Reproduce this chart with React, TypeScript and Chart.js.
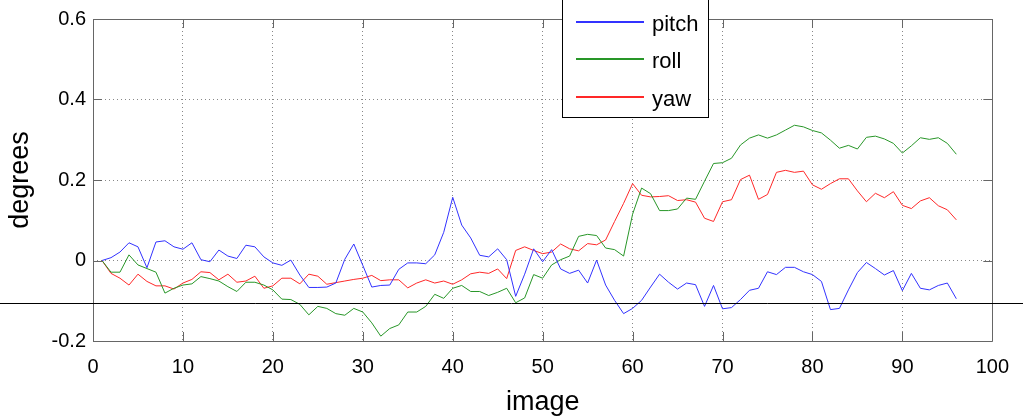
import React, { useEffect, useRef } from 'react';
import { Chart, registerables } from 'chart.js';

Chart.register(...registerables);

const images = [
  1, 2, 3, 4, 5, 6, 7, 8, 9, 10, 11, 12, 13, 14, 15, 16, 17, 18, 19, 20,
  21, 22, 23, 24, 25, 26, 27, 28, 29, 30, 31, 32, 33, 34, 35, 36, 37, 38, 39, 40,
  41, 42, 43, 44, 45, 46, 47, 48, 49, 50, 51, 52, 53, 54, 55, 56, 57, 58, 59, 60,
  61, 62, 63, 64, 65, 66, 67, 68, 69, 70, 71, 72, 73, 74, 75, 76, 77, 78, 79, 80,
  81, 82, 83, 84, 85, 86, 87, 88, 89, 90, 91, 92, 93, 94, 95, 96,
];

const pitch = [
  0, 0.007, 0.021, 0.044, 0.034, -0.018, 0.046, 0.049, 0.034, 0.028,
  0.044, 0.002, -0.003, 0.026, 0.011, 0.005, 0.038, 0.034, 0.009, -0.006,
  -0.012, 0.001, -0.036, -0.067, -0.067, -0.066, -0.056, 0.003, 0.041, -0.012,
  -0.066, -0.062, -0.061, -0.022, -0.006, -0.006, -0.008, 0.014, 0.07, 0.157,
  0.088, 0.056, 0.013, 0.009, 0.029, 0.002, -0.089, -0.034, 0.029, -0.003,
  0.027, -0.021, -0.032, -0.024, -0.056, 0.001, -0.061, -0.099, -0.132, -0.119,
  -0.099, -0.066, -0.034, -0.054, -0.071, -0.056, -0.06, -0.114, -0.062, -0.12,
  -0.117, -0.097, -0.074, -0.069, -0.028, -0.035, -0.017, -0.017, -0.028, -0.035,
  -0.052, -0.122, -0.119, -0.073, -0.03, -0.005, -0.02, -0.036, -0.025, -0.075,
  -0.032, -0.069, -0.073, -0.062, -0.056, -0.095,
];

const roll = [
  0, -0.029, -0.029, 0.014, -0.011, -0.02, -0.029, -0.081, -0.069, -0.061,
  -0.058, -0.04, -0.045, -0.051, -0.065, -0.077, -0.054, -0.054, -0.061, -0.073,
  -0.096, -0.097, -0.109, -0.135, -0.114, -0.119, -0.132, -0.136, -0.119, -0.128,
  -0.155, -0.188, -0.169, -0.16, -0.128, -0.128, -0.114, -0.084, -0.094, -0.069,
  -0.062, -0.077, -0.077, -0.087, -0.079, -0.069, -0.105, -0.093, -0.035, -0.044,
  -0.011, 0.002, 0.011, 0.06, 0.065, 0.062, 0.031, 0.027, 0.011, 0.115,
  0.18, 0.166, 0.124, 0.124, 0.128, 0.155, 0.152, 0.197, 0.241, 0.243,
  0.254, 0.287, 0.304, 0.312, 0.304, 0.312, 0.324, 0.336, 0.332, 0.323,
  0.317, 0.299, 0.279, 0.286, 0.277, 0.306, 0.309, 0.302, 0.291, 0.267,
  0.285, 0.305, 0.301, 0.305, 0.291, 0.264,
];

const yaw = [
  0, -0.032, -0.044, -0.061, -0.034, -0.052, -0.063, -0.063, -0.071, -0.056,
  -0.047, -0.028, -0.03, -0.048, -0.034, -0.054, -0.051, -0.039, -0.069, -0.063,
  -0.044, -0.044, -0.058, -0.034, -0.039, -0.059, -0.055, -0.051, -0.047, -0.044,
  -0.037, -0.05, -0.048, -0.048, -0.068, -0.056, -0.048, -0.056, -0.051, -0.059,
  -0.048, -0.033, -0.029, -0.032, -0.021, -0.045, 0.025, 0.034, 0.025, 0.017,
  0.021, 0.041, 0.029, 0.024, 0.042, 0.039, 0.051, 0.097, 0.142, 0.191,
  0.162, 0.158, 0.159, 0.161, 0.149, 0.151, 0.145, 0.105, 0.097, 0.146,
  0.151, 0.201, 0.212, 0.152, 0.164, 0.219, 0.224, 0.219, 0.222, 0.188,
  0.177, 0.191, 0.203, 0.203, 0.173, 0.146, 0.167, 0.156, 0.171, 0.137,
  0.129, 0.148, 0.156, 0.136, 0.126, 0.101,
];

const seriesNames = ['pitch', 'roll', 'yaw'];
const seriesColors = ['rgb(50,50,255)', 'rgb(40,150,40)', 'rgb(255,40,40)'];

const xTicks = [0, 10, 20, 30, 40, 50, 60, 70, 80, 90, 100];
const yTicks = [-0.2, 0, 0.2, 0.4, 0.6];
const yTickLabels = ['-0.2', '0', '0.2', '0.4', '0.6'];
const referenceLevel = -0.105;

const FONT = '"Liberation Sans", Arial, Helvetica, sans-serif';
const FRAME = '#666666';
const GRID = '#888888';

const framePlugin = {
  id: 'frameTicks',
  afterDatasetsDraw(chart: any) {
    const { ctx, chartArea } = chart;
    const { left, right, top, bottom } = chartArea;
    const xs = chart.scales.x;
    const ys = chart.scales.y;
    const tl = 9;
    ctx.save();
    ctx.setLineDash([]);
    ctx.strokeStyle = FRAME;
    ctx.lineWidth = 1;
    ctx.beginPath();
    xTicks.forEach((v) => {
      const px = Math.round(xs.getPixelForValue(v)) + 0.5;
      ctx.moveTo(px, bottom);
      ctx.lineTo(px, bottom - tl);
      ctx.moveTo(px, top);
      ctx.lineTo(px, top + tl);
    });
    yTicks.forEach((v) => {
      const py = Math.round(ys.getPixelForValue(v)) + 0.5;
      ctx.moveTo(left, py);
      ctx.lineTo(left + tl, py);
      ctx.moveTo(right, py);
      ctx.lineTo(right - tl, py);
    });
    ctx.stroke();
    ctx.beginPath();
    ctx.rect(Math.round(left) + 0.5, Math.round(top) + 0.5, Math.round(right - left), Math.round(bottom - top));
    ctx.stroke();
    const ry = Math.round(ys.getPixelForValue(referenceLevel)) + 0.5;
    ctx.strokeStyle = '#000000';
    ctx.beginPath();
    ctx.moveTo(0, ry);
    ctx.lineTo(chart.width, ry);
    ctx.stroke();
    ctx.restore();
  },
};

const legendPlugin = {
  id: 'boxLegend',
  afterDraw(chart: any) {
    const { ctx } = chart;
    const x0 = 562.5;
    const x1 = 708.5;
    const y0 = -2.5;
    const y1 = 117.5;
    ctx.save();
    ctx.setLineDash([]);
    ctx.fillStyle = '#ffffff';
    ctx.fillRect(x0, y0, x1 - x0, y1 - y0);
    ctx.strokeStyle = '#000000';
    ctx.lineWidth = 1;
    ctx.strokeRect(x0, y0, x1 - x0, y1 - y0);
    seriesNames.forEach((name, i) => {
      const y = Math.round(21.5 + i * 37.5);
      ctx.fillStyle = seriesColors[i];
      ctx.fillRect(576, y - 1, 68, 2);
      ctx.fillStyle = '#000000';
      ctx.font = `22px ${FONT}`;
      ctx.textBaseline = 'middle';
      ctx.textAlign = 'left';
      ctx.fillText(name, 652, y + 3);
    });
    ctx.restore();
  },
};

export default function App() {
  const canvasRef = useRef<HTMLCanvasElement | null>(null);

  useEffect(() => {
    if (!canvasRef.current) return;
    const seriesValues = [pitch, roll, yaw];
    const chart = new Chart(canvasRef.current, {
      type: 'line',
      data: {
        datasets: seriesValues.map((vals, i) => ({
          label: seriesNames[i],
          data: vals.map((v, j) => ({ x: images[j], y: v })),
          borderColor: seriesColors[i],
          backgroundColor: seriesColors[i],
          borderWidth: 1,
          pointRadius: 0,
          tension: 0,
          fill: false,
        })),
      },
      options: {
        animation: false,
        responsive: false,
        devicePixelRatio: 1,
        layout: { padding: { left: 0, right: 21, top: 14, bottom: 0 } },
        plugins: { legend: { display: false }, tooltip: { enabled: false } },
        scales: {
          x: {
            type: 'linear',
            min: 0,
            max: 100,
            afterFit: (s: any) => { s.height = 77; },
            afterBuildTicks: (s: any) => { s.ticks = xTicks.map((v) => ({ value: v })); },
            ticks: {
              color: '#000',
              font: { family: FONT, size: 20 },
              padding: 14,
              maxRotation: 0,
              autoSkip: false,
              callback: (v: any) => String(v),
            },
            grid: { color: GRID, drawTicks: false, lineWidth: 1 },
            border: { display: false, dash: [1, 3] },
            title: {
              display: true,
              text: 'image',
              color: '#000',
              font: { family: FONT, size: 27 },
              padding: { top: 0, bottom: -1 },
            },
          },
          y: {
            type: 'linear',
            min: -0.2,
            max: 0.6,
            afterFit: (s: any) => { s.width = 93; },
            afterBuildTicks: (s: any) => { s.ticks = yTicks.map((v) => ({ value: v })); },
            ticks: {
              color: '#000',
              font: { family: FONT, size: 20 },
              padding: 7,
              autoSkip: false,
              callback: (_v: any, idx: number) => yTickLabels[idx],
            },
            grid: { color: GRID, drawTicks: false, lineWidth: 1 },
            border: { display: false, dash: [1, 3] },
            title: {
              display: true,
              text: 'degrees',
              color: '#000',
              font: { family: FONT, size: 27 },
              padding: { top: 4, bottom: 0 },
            },
          },
        },
      },
      plugins: [framePlugin, legendPlugin],
    } as any);
    return () => chart.destroy();
  }, []);

  return (
    <div style={{ position: 'fixed', left: 0, top: 0, width: 1023, height: 418, background: '#fff' }}>
      <canvas ref={canvasRef} width={1023} height={418} style={{ display: 'block' }} />
    </div>
  );
}
